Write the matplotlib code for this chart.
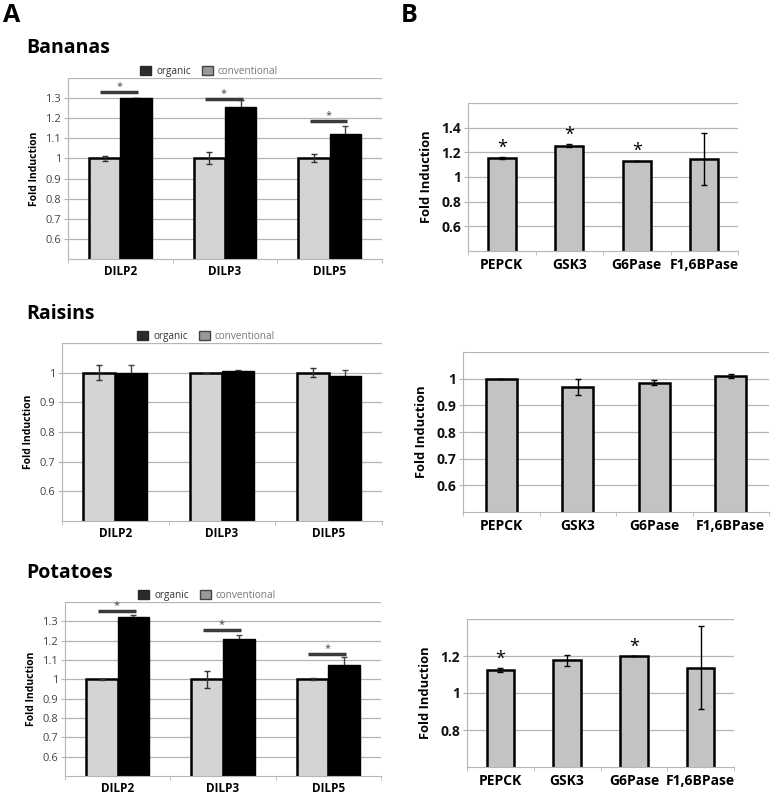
import matplotlib
matplotlib.use("Agg")
import matplotlib.pyplot as plt
import numpy as np
from matplotlib.patches import Patch

plt.rcParams["font.family"] = ["Open Sans", "DejaVu Sans"]

W, H = 773, 796

dilp_genes = ["DILP2", "DILP3", "DILP5"]
gluco_genes = ["PEPCK", "GSK3", "G6Pase", "F1,6BPase"]

# panel A: conventional vs organic, fold induction
bananas_conv = [1.0, 1.0, 1.0]
bananas_conv_err = [0.012, 0.03, 0.02]
bananas_org = [1.30, 1.255, 1.121]
bananas_org_err = [0.0, 0.035, 0.04]
bananas_sig = [1.328, 1.295, 1.184]

raisins_conv = [1.0, 1.0, 1.0]
raisins_conv_err = [0.025, 0.0, 0.016]
raisins_org = [1.0, 1.007, 0.988]
raisins_org_err = [0.027, 0.003, 0.02]

potatoes_conv = [1.0, 1.0, 1.0]
potatoes_conv_err = [0.004, 0.045, 0.005]
potatoes_org = [1.32, 1.207, 1.072]
potatoes_org_err = [0.015, 0.022, 0.043]
potatoes_sig = [1.352, 1.255, 1.131]

# panel B: gluconeogenesis genes
b1_vals = [1.154, 1.254, 1.133, 1.146]
b1_err = [0.006, 0.01, 0.0, 0.21]
b1_star = [True, True, True, False]

b2_vals = [1.0, 0.968, 0.985, 1.011]
b2_err = [0.0, 0.029, 0.01, 0.008]
b2_star = [False, False, False, False]

b3_vals = [1.1225, 1.177, 1.198, 1.137]
b3_err = [0.01, 0.03, 0.0, 0.225]
b3_star = [True, False, True, False]

GRID = "#b5b5b5"


def px_axes(fig, left, right, top, bottom):
    # axes placed in pixel coords of the 773x796 figure
    return fig.add_axes([left / W, 1 - bottom / H, (right - left) / W, (bottom - top) / H])


def style_axes(ax, ylim, yticks, bold):
    ax.set_ylim(*ylim)
    ax.set_yticks(yticks)
    ax.set_yticklabels([f"{t:g}" for t in yticks])
    ax.yaxis.grid(True, color=GRID, linewidth=0.9)
    ax.set_axisbelow(True)
    for s in ["top", "right"]:
        ax.spines[s].set_visible(False)
    ax.axhline(ylim[1], color=GRID, linewidth=0.9, zorder=0)
    ax.spines["left"].set_color(GRID)
    ax.spines["bottom"].set_color(GRID)
    ax.tick_params(axis="y", length=3, color=GRID, pad=2,
                   labelsize=10 if bold else 8, labelcolor="#111" if bold else "#444")
    if bold:
        for lab in ax.get_yticklabels():
            lab.set_fontweight("bold")
    ax.set_ylabel("Fold Induction", fontsize=9.3 if bold else 7.5, fontweight="bold",
                  labelpad=6 if bold else 4)


def panel_a(fig, box, conv, conv_err, org, org_err, sig, ylim, yticks):
    ax = px_axes(fig, *box)
    x = np.arange(len(dilp_genes))
    bw = 0.3
    ax.bar(x - bw / 2, conv, bw, color="#d4d4d4", edgecolor="black", linewidth=1.8, zorder=2)
    ax.bar(x + bw / 2, org, bw, color="black", edgecolor="black", linewidth=1.0, zorder=2)
    ax.errorbar(x - bw / 2, conv, yerr=conv_err, fmt="none", ecolor="#333", elinewidth=1, capsize=2, zorder=3)
    ax.errorbar(x + bw / 2, org, yerr=org_err, fmt="none", ecolor="#444", elinewidth=1, capsize=2, zorder=1.5)
    ax.set_xlim(-0.5, len(dilp_genes) - 0.5)
    style_axes(ax, ylim, yticks, False)
    ax.set_xticks(x)
    ax.set_xticklabels(dilp_genes, fontsize=8.5, fontweight="bold")
    ax.set_xticks(np.arange(len(dilp_genes) + 1) - 0.5, minor=True)
    ax.tick_params(axis="x", which="major", length=0, pad=4)
    ax.tick_params(axis="x", which="minor", length=3, color=GRID)
    if sig is not None:
        for xi, s in zip(x, sig):
            ax.plot([xi - 0.19, xi + 0.17], [s, s], color="#3a3a3a", linewidth=2.5, zorder=4,
                    solid_capstyle="butt")
            ax.text(xi - 0.01, s, "*", ha="center", va="bottom", fontsize=8, color="#444")
    handles = [Patch(facecolor="#2a2a2a", edgecolor="#2a2a2a"),
               Patch(facecolor="#999999", edgecolor="#444")]
    leg = ax.legend(handles, ["organic", "conventional"], loc="lower center",
                    bbox_to_anchor=(0.45, 0.985), ncol=2, frameon=False, fontsize=7.2,
                    handlelength=1.1, handleheight=1.0, handletextpad=0.5, columnspacing=1.1,
                    borderaxespad=0)
    leg.get_texts()[0].set_color("#333")
    leg.get_texts()[1].set_color("#777")
    return ax


def panel_b(fig, box, vals, err, star, ylim, yticks):
    ax = px_axes(fig, *box)
    x = np.arange(len(gluco_genes))
    ax.bar(x, vals, 0.41, color="#c3c3c3", edgecolor="black", linewidth=1.8, zorder=2)
    ax.errorbar(x, vals, yerr=err, fmt="none", ecolor="black", elinewidth=1, capsize=2, zorder=3)
    ax.set_xlim(-0.5, len(gluco_genes) - 0.5)
    style_axes(ax, ylim, yticks, True)
    ax.set_xticks(x)
    ax.set_xticklabels(gluco_genes, fontsize=10, fontweight="bold")
    ax.set_xticks(np.arange(len(gluco_genes) + 1) - 0.5, minor=True)
    ax.tick_params(axis="x", which="major", length=0, pad=5)
    ax.tick_params(axis="x", which="minor", length=3, color=GRID)
    span = ylim[1] - ylim[0]
    for xi, v, e, s in zip(x, vals, err, star):
        if s:
            ax.text(xi, v + e + span * 0.005, "*", ha="center", va="bottom", fontsize=13, color="black")
    return ax


fig = plt.figure(figsize=(W / 100, H / 100), dpi=100)

panel_a(fig, (68, 382, 78, 259), bananas_conv, bananas_conv_err,
        bananas_org, bananas_org_err, bananas_sig, (0.5, 1.4), [0.6, 0.7, 0.8, 0.9, 1, 1.1, 1.2, 1.3])
panel_a(fig, (62, 382, 343, 521), raisins_conv, raisins_conv_err,
        raisins_org, raisins_org_err, None, (0.5, 1.1), [0.6, 0.7, 0.8, 0.9, 1])
panel_a(fig, (65, 381, 602, 776), potatoes_conv, potatoes_conv_err,
        potatoes_org, potatoes_org_err, potatoes_sig, (0.5, 1.4), [0.6, 0.7, 0.8, 0.9, 1, 1.1, 1.2, 1.3])

panel_b(fig, (468, 738, 103, 251), b1_vals, b1_err, b1_star, (0.4, 1.6), [0.6, 0.8, 1, 1.2, 1.4])
panel_b(fig, (463, 769, 352, 512), b2_vals, b2_err, b2_star, (0.5, 1.1), [0.6, 0.7, 0.8, 0.9, 1])
panel_b(fig, (467, 734, 619, 767), b3_vals, b3_err, b3_star, (0.6, 1.4), [0.8, 1, 1.2])

# panel letters and titles
fig.text(3 / W, 1 - 22 / H, "A", fontsize=18, fontweight="bold", va="baseline")
fig.text(401 / W, 1 - 22 / H, "B", fontsize=18, fontweight="bold", va="baseline")
for title, base in [("Bananas", 53), ("Raisins", 319), ("Potatoes", 578)]:
    fig.text(26 / W, 1 - base / H, title, fontsize=14, fontweight="bold", va="baseline")

fig.savefig("out.png", dpi=100)
